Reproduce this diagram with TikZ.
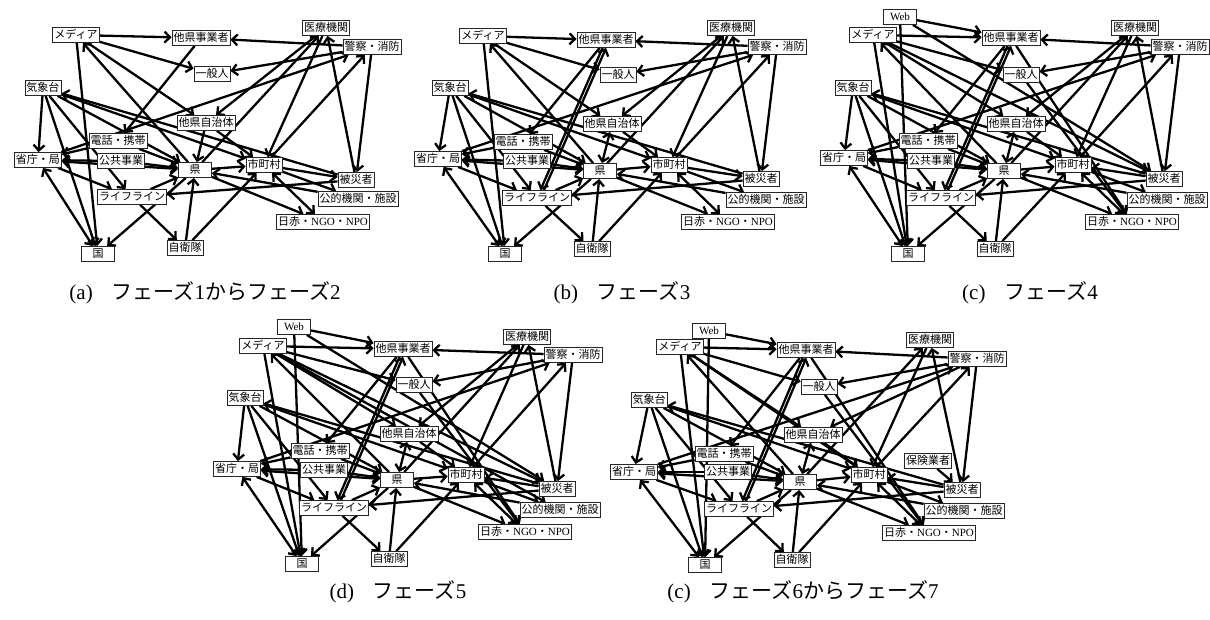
\documentclass[tikz,border=0pt]{standalone}
\usepackage{fontspec}
\setmainfont{Liberation Serif}
\newfontfamily\jp{Noto Sans CJK JP}
\usetikzlibrary{arrows.meta,backgrounds}

% labels of the actors, looked up by id
\newcommand\lblM{メディア}
\newcommand\lblTJ{他県事業者}
\newcommand\lblIR{医療機関}
\newcommand\lblKS{警察・消防}
\newcommand\lblIP{一般人}
\newcommand\lblKZ{気象台}
\newcommand\lblTZ{他県自治体}
\newcommand\lblDK{電話・携帯}
\newcommand\lblSC{省庁・局}
\newcommand\lblKK{公共事業}
\newcommand\lblKEN{県}
\newcommand\lblSH{市町村}
\newcommand\lblHS{被災者}
\newcommand\lblLL{ライフライン}
\newcommand\lblKT{公的機関・施設}
\newcommand\lblNR{日赤・{\rmfamily NGO}・{\rmfamily NPO}}
\newcommand\lblKUNI{国}
\newcommand\lblJE{自衛隊}
\newcommand\lblWEB{{\rmfamily Web}}
\newcommand\lblHK{保険業者}

% place the actor boxes of one network
\newcommand\putnodes[2]{\foreach \id/\x/\y in {#2}{\node[actor] (#1-\id) at (\x,\y) {\csname lbl\id\endcsname};}}
% one-way and two-way information flows
\newcommand\drawflows[2]{\foreach \s/\t in {#2}{\draw[flow] (#1-\s) -- (#1-\t);}}
\newcommand\drawduals[2]{\foreach \s/\t in {#2}{\draw[flowb] (#1-\s) -- (#1-\t);}}
\newcommand\drawshifted[2]{\foreach \s/\t in {#2}{\draw[flow,transform canvas={xshift=3.5pt}] (#1-\s) -- (#1-\t);}}

\begin{document}
\begin{tikzpicture}[x=1pt,y=-1pt,
  actor/.style={draw=black!85,line width=0.8pt,fill=white,
    font=\jp\fontsize{11}{12}\selectfont,inner xsep=1.5pt,inner ysep=1pt,
    text height=10.3pt,text depth=2.7pt,minimum width=33pt},
  flow/.style={line width=2.3pt,-{Straight Barb[length=5.5pt,width=11pt]}},
  flowb/.style={line width=2.3pt,{Straight Barb[length=5.5pt,width=11pt]}-{Straight Barb[length=5.5pt,width=11pt]}},
  caption/.style={font=\fontsize{21}{24}\selectfont,inner sep=0pt}]
\useasboundingbox (0,0) rectangle (1210,619);

% ---------- (a) phases 1-2
\putnodes{a}{M/76/35,TJ/201/38,IR/326/28,KS/372/47,IP/212/74,KZ/43/88,TZ/206/123,
  DK/118/141,SC/38/160,KK/121/161,KEN/195/170,SH/264/165,HS/356/180,LL/132/197,
  KT/358/199,NR/323/222,KUNI/98/254,JE/185/248}
% ---------- (b) phase 3
\putnodes{b}{M/483/36,TJ/606/40,IR/731/28,KS/777/47,IP/618/75,KZ/450/88,TZ/612/124,
  DK/523/142,SC/438/159,KK/527/161,KEN/600/171,SH/669/165,HS/761/179,LL/537/198,
  KT/766/200,NR/728/222,KUNI/505/254,JE/592/249}
% ---------- (c) phase 4
\putnodes{c}{WEB/900/17,M/873/35,TJ/1011/38,IR/1135/28,KS/1180/47,IP/1021/75,KZ/853/88,
  TZ/1016/124,DK/928/141,SC/844/158,KK/931/161,KEN/1004/171,SH/1073/165,HS/1164/179,
  LL/941/198,KT/1167/200,NR/1132/222,KUNI/908/254,JE/995/249}
% ---------- (d) phase 5
\putnodes{d}{WEB/294/327,M/263/346,TJ/403/349,IR/527/337,KS/573/355,IP/414/385,KZ/245/398,
  TZ/409/434,DK/320/451,SC/237/469,KK/324/470,KEN/397/480,SH/466/475,HS/557/489,
  LL/334/508,KT/560/510,NR/525/532,KUNI/302/564,JE/389/559}
% ---------- (e) phases 6-7
\putnodes{e}{WEB/709/331,M/680/347,TJ/806/350,IR/930/340,KS/977/359,IP/819/387,KZ/649/400,
  TZ/813/435,DK/724/454,SC/634/472,KK/728/472,KEN/800/482,SH/869/475,HK/928/461,
  HS/962/490,LL/739/509,KT/964/511,NR/929/533,KUNI/705/565,JE/792/560}

\begin{pgfonlayer}{background}
\fill[white] (0,0) rectangle (1210,619);

\drawflows{a}{M/TJ,M/IP,M/TZ,KEN/M,M/KUNI,TJ/DK,KS/TJ,KS/IP,SC/KS,IR/TZ,KS/HS,HS/IR,
  SH/KS,KEN/IR,IR/SH,KZ/SC,KZ/LL,KZ/KUNI,KZ/KEN,KZ/SH,HS/KZ,SC/LL,KK/SC,DK/SC,
  DK/KEN,KK/KEN,KEN/SH,TZ/KEN,TZ/SH,SH/HS,HS/LL,SH/KT,KEN/NR,KT/KEN,JE/KEN,JE/SH,
  LL/JE,KEN/KUNI,LL/KEN}
\drawduals{a}{SC/KUNI,SH/NR,SC/KEN}

\drawflows{b}{M/TJ,M/IP,M/TZ,KEN/M,M/KUNI,TJ/DK,TJ/LL,KS/TJ,KS/IP,SC/KS,IR/TZ,KS/HS,HS/IR,
  SH/KS,KEN/IR,IR/SH,KZ/SC,KZ/LL,KZ/KUNI,KZ/KEN,KZ/SH,HS/KZ,SC/LL,KK/SC,DK/SC,
  DK/KEN,KK/KEN,KEN/SH,TZ/SH,SH/HS,HS/LL,SH/KT,KEN/NR,KT/KEN,JE/KEN,JE/SH,
  LL/JE,KEN/KUNI,LL/KEN}
\drawduals{b}{SC/KUNI,SH/NR,SC/KEN,TZ/KEN}
\drawshifted{b}{LL/TJ}

\drawflows{c}{M/TJ,WEB/TJ,WEB/HS,WEB/KUNI,M/HS,M/IP,M/TZ,KEN/M,M/KUNI,TJ/DK,TJ/LL,TJ/NR,
  IP/NR,KS/TJ,KS/IP,SC/KS,IR/TZ,KS/HS,HS/IR,SH/KS,KEN/IR,IR/SH,KZ/SC,KZ/LL,KZ/KUNI,
  KZ/KEN,KZ/SH,HS/KZ,SC/LL,KK/SC,DK/SC,DK/KEN,KK/KEN,KEN/SH,TZ/SH,HS/SH,HS/LL,SH/KT,
  KEN/NR,KT/KEN,JE/KEN,JE/SH,LL/JE,KEN/KUNI,LL/KEN}
\drawduals{c}{SC/KUNI,SH/NR,SC/KEN,TZ/KEN}
\drawshifted{c}{LL/TJ}

\drawflows{d}{M/TJ,WEB/TJ,WEB/HS,WEB/KUNI,M/HS,M/KT,M/IP,M/TZ,KEN/M,M/KUNI,TJ/DK,TJ/LL,TJ/NR,
  IP/NR,KS/TJ,KS/IP,SC/KS,IR/TZ,KS/HS,HS/IR,SH/KS,KEN/IR,IR/SH,KZ/SC,KZ/LL,KZ/KUNI,
  KZ/KEN,KZ/SH,HS/KZ,SC/LL,KK/SC,DK/SC,DK/KEN,KK/KEN,KEN/SH,TZ/SH,HS/SH,HS/LL,SH/KT,
  KEN/NR,KT/KEN,JE/KEN,JE/SH,LL/JE,KEN/KUNI,LL/KEN}
\drawduals{d}{SC/KUNI,SH/NR,SC/KEN,TZ/KEN}
\drawshifted{d}{LL/TJ}

\drawflows{e}{M/TJ,WEB/TJ,WEB/KUNI,M/SH,M/IP,M/TZ,KEN/M,M/KUNI,TJ/DK,TJ/LL,TJ/NR,
  IP/NR,KS/TJ,KS/IP,KS/TZ,SC/KS,KS/HS,HS/IR,SH/KS,KEN/IR,IR/SH,KZ/SC,KZ/LL,KZ/KUNI,
  KZ/KEN,KZ/SH,HS/KZ,SC/LL,KK/SC,DK/SC,DK/KEN,KK/KEN,KEN/SH,TZ/SH,HS/SH,HS/LL,SH/KT,
  HK/HS,KEN/NR,KT/KEN,JE/KEN,JE/SH,LL/JE,KEN/KUNI,LL/KEN}
\drawduals{e}{SC/KUNI,SH/NR,SC/KEN,TZ/KEN}
\drawshifted{e}{LL/TJ}
\end{pgfonlayer}

% ---------- captions
\node[caption] (capa) at (205,293) {(a)\hspace{0.9em}{\jp フェーズ}1{\jp から}{\jp フェーズ}2};
\node[caption] (capb) at (622,293) {(b)\hspace{0.9em}{\jp フェーズ}3};
\node[caption] (capc) at (1030,293) {(c)\hspace{0.9em}{\jp フェーズ}4};
\node[caption] (capd) at (398,592) {(d)\hspace{0.9em}{\jp フェーズ}5};
\node[caption] (cape) at (803,592) {(c)\hspace{0.9em}{\jp フェーズ}6{\jp から}{\jp フェーズ}7};
\end{tikzpicture}
\end{document}
